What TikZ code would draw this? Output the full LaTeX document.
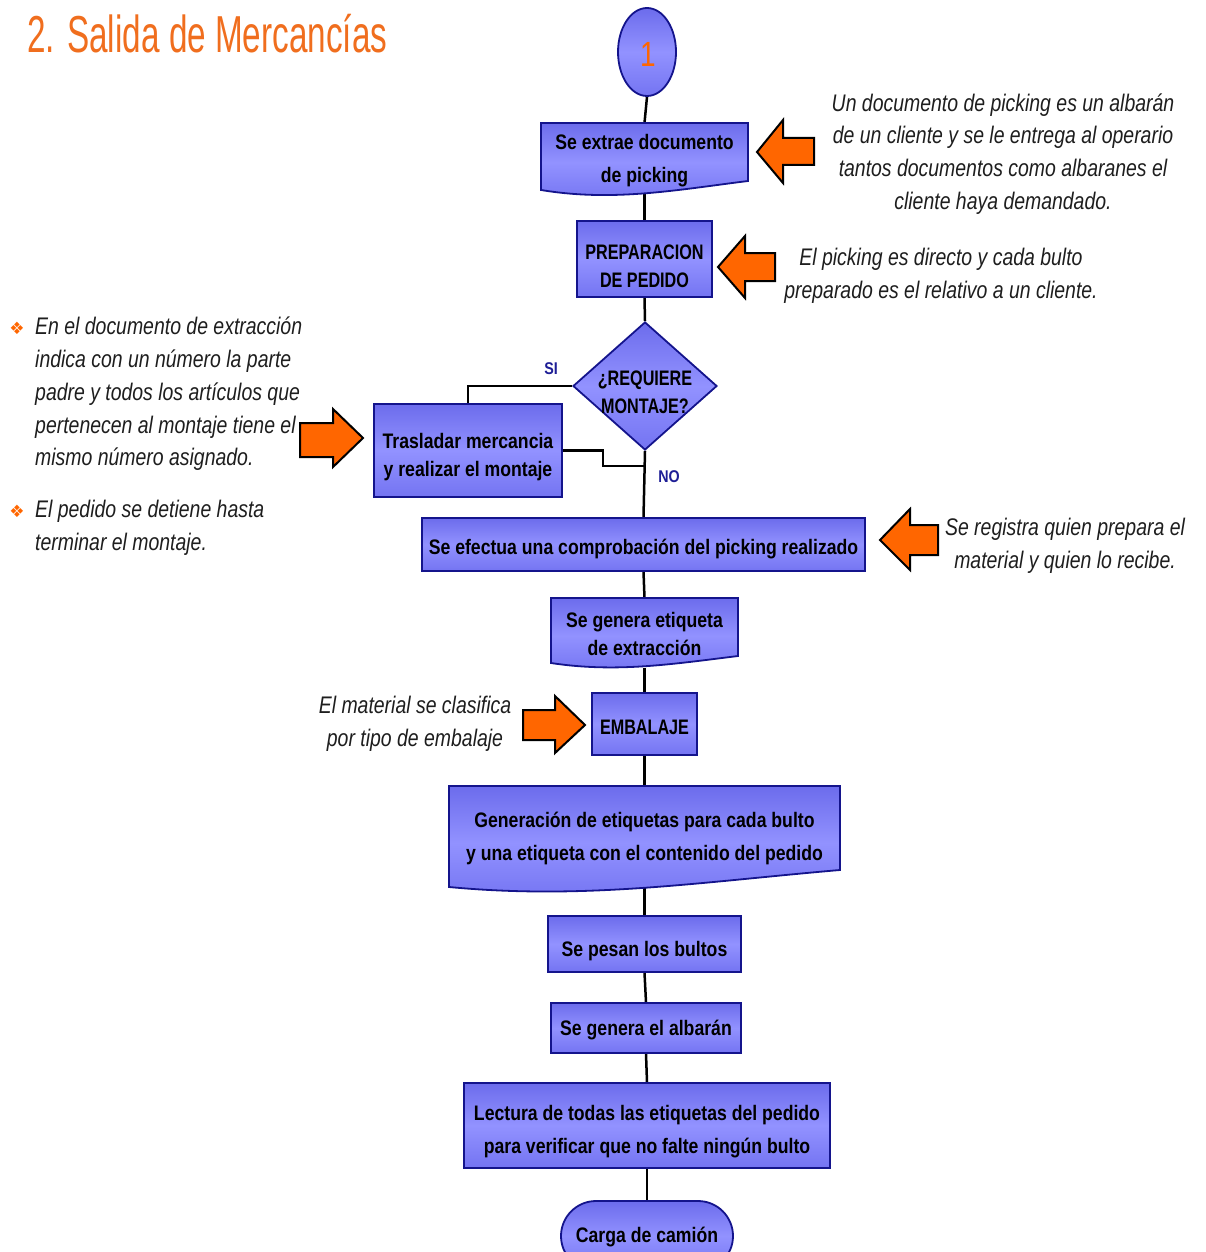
\documentclass[tikz,border=0pt]{standalone}
\usepackage{fontspec}
\setmainfont{Liberation Sans}
\newfontfamily\boxf[FakeStretch=0.84]{Liberation Sans}
\newfontfamily\boxfu[FakeStretch=0.77]{Liberation Sans}
\newfontfamily\annf[FakeStretch=0.81]{Liberation Sans}
\newfontfamily\titf[FakeStretch=0.64]{Liberation Sans}
\newfontfamily\numf[FakeStretch=0.8]{Liberation Sans}
\newfontfamily\symf{DejaVu Sans}
\usetikzlibrary{shapes.geometric,backgrounds}
\definecolor{navy}{RGB}{20,20,140}
\definecolor{bt}{RGB}{108,108,236}
\definecolor{bm}{RGB}{146,146,255}
\definecolor{bb}{RGB}{116,116,242}
\definecolor{org}{RGB}{255,102,0}
\definecolor{titorg}{RGB}{240,110,30}
\definecolor{lblnavy}{RGB}{30,30,150}
\definecolor{anntext}{RGB}{30,30,30}
\begin{document}
\begin{tikzpicture}[x=1pt,y=-1pt,
 bfill/.style={draw=navy, line width=1.8pt, top color=bt, bottom color=bb, middle color=bm},
 proc/.style={bfill, rectangle, inner sep=0pt},
 btxt/.style={rectangle, inner sep=0pt, align=center, font=\boxf\bfseries\fontsize{21}{28}\selectfont, text=black},
 btxtu/.style={btxt, font=\boxfu\bfseries\fontsize{21}{28}\selectfont},
 conn/.style={line width=2.5pt, black},
 barrow/.style={fill=org, draw=black, line width=2pt, line join=miter},
 ann/.style={font=\annf\itshape\fontsize{24}{32.7}\selectfont, align=center, text=anntext, inner sep=0pt},
 yn/.style={font=\boxf\bfseries\fontsize{17}{18}\selectfont, text=lblnavy, inner sep=0pt}
]
\useasboundingbox (0,0) rectangle (1206,1252);
\clip (0,0) rectangle (1206,1252);

% title
\node[anchor=west, font=\titf\fontsize{52}{52}\selectfont, text=titorg, inner sep=0pt] (title) at (27,34) {2. Salida de Mercancías};

% start circle
\node[bfill, ellipse, minimum width=58pt, minimum height=88pt, inner sep=0pt] (c1) at (647,52) {};
\node[font=\numf\fontsize{35}{35}\selectfont, text=org, inner sep=0pt] (c1t) at (648,54) {1};

% box 1 (document)
\path[bfill] (541,123) -- (748,123) -- (748,181) .. controls (676,190) and (613,202) .. (541,190) -- cycle;
\node[rectangle, inner sep=0pt, minimum width=207pt, minimum height=70pt] (b1) at (644.5,158) {};
\node[btxt] (t1) at (644.5,161) {Se extrae documento\\[5pt]de picking};

% box 2
\node[proc, minimum width=135pt, minimum height=76pt] (b2) at (644.5,259) {};
\node[btxtu] (t2) at (644.5,266) {PREPARACION\\DE PEDIDO};

% decision
\node[bfill, diamond, minimum width=144pt, minimum height=128pt, inner sep=0pt] (d) at (645,386) {};
\node[btxtu] (dt) at (645,392) {¿REQUIERE\\MONTAJE?};
\node[yn] (si) at (551,369) {SI};
\node[yn] (no) at (669,477) {NO};

% box 3
\node[proc, minimum width=188pt, minimum height=93pt] (b3) at (468,450.5) {};
\node[btxt] (t3) at (468,457) {Trasladar mercancia\\y realizar el montaje};

% box 4
\node[proc, minimum width=443pt, minimum height=53pt] (b4) at (643.5,544.5) {};
\node[btxt] (t4) at (643.5,549) {Se efectua una comprobación del picking realizado};

% box 5 (document)
\path[bfill] (551,598) -- (738,598) -- (738,656) .. controls (673,664) and (616,673) .. (551,663) -- cycle;
\node[rectangle, inner sep=0pt, minimum width=187pt, minimum height=70pt] (b5) at (644.5,633) {};
\node[btxt] (t5) at (644.5,634) {Se genera etiqueta\\de extracción};

% box 6
\node[proc, minimum width=105pt, minimum height=62pt] (b6) at (644.5,724) {};
\node[btxtu] (t6) at (644.5,727) {EMBALAJE};

% box 7 (document)
\path[bfill] (449,786) -- (840,786) -- (840,870) .. controls (700,882) and (586,900) .. (449,887) -- cycle;
\node[rectangle, inner sep=0pt, minimum width=391pt, minimum height=102pt] (b7) at (644.5,837) {};
\node[btxt] (t7) at (644.5,838) {Generación de etiquetas para cada bulto\\[5pt]y una etiqueta con el contenido del pedido};

% box 8
\node[proc, minimum width=193pt, minimum height=56pt] (b8) at (644.5,944) {};
\node[btxt] (t8) at (644.5,951) {Se pesan los bultos};

% box 9
\node[proc, minimum width=190pt, minimum height=50pt] (b9) at (646,1028) {};
\node[btxt] (t9) at (646,1030) {Se genera el albarán};

% box 10
\node[proc, minimum width=366pt, minimum height=85pt] (b10) at (647,1125.5) {};
\node[btxt] (t10) at (647,1132) {Lectura de todas las etiquetas del pedido\\[5pt]para verificar que no falte ningún bulto};

% terminal
\node[bfill, rectangle, rounded corners=35pt, minimum width=172pt, minimum height=70pt, inner sep=0pt] (term) at (647,1236) {};
\node[btxt] (tt) at (647,1237) {Carga de camión};

% connectors
\begin{scope}[on background layer]
\coordinate (j) at (645,466);
\draw[conn] (c1.south) -- (b1.north);
\draw[conn] (b1.south) -- (b2.north);
\draw[conn] (b2.south) -- (d.north);
\draw[conn] (d.west) -| (b3.north);
\draw[conn] (b3.east) -- ++(40,0) |- (j);
\draw[conn] (d.south) -- (b4.north);
\draw[conn] (b4.south) -- (b5.north);
\draw[conn] (b5.south) -- (b6.north);
\draw[conn] (b6.south) -- (b7.north);
\draw[conn] (b7.south) -- (b8.north);
\draw[conn] (b8.south) -- (b9.north);
\draw[conn] (b9.south) -- (b10.north);
\draw[conn] (b10.south) -- (term.north);
\end{scope}

% annotations
\node[ann] (n1) at (1003,154) {Un documento de picking es un albarán\\de un cliente y se le entrega al operario\\tantos documentos como albaranes el\\cliente haya demandado.};
\node[ann] (n2) at (941,276) {El picking es directo y cada bulto\\preparado es el relativo a un cliente.};
\node[ann] (n4) at (1065,546) {Se registra quien prepara el\\material y quien lo recibe.};
\node[ann] (n5) at (415,724) {El material se clasifica\\por tipo de embalaje};
\node[ann, align=left, anchor=west] (n3) at (35,394) {En el documento de extracción\\indica con un número la parte\\padre y todos los artículos que\\pertenecen al montaje tiene el\\mismo número asignado.};
\node[ann, align=left, anchor=west] (n6) at (35,528) {El pedido se detiene hasta\\terminar el montaje.};
\node[text=org, font=\symf\fontsize{17}{17}\selectfont, inner sep=0pt] (bu1) at (17,328) {❖};
\node[text=org, font=\symf\fontsize{17}{17}\selectfont, inner sep=0pt] (bu2) at (17,511) {❖};

% block arrows
\path[barrow] (757,152) -- (783,120) -- (783,138) -- (814,138) -- (814,165) -- (783,165) -- (783,183) -- cycle;
\path[barrow] (718,267) -- (745,236) -- (745,253) -- (775,253) -- (775,281) -- (745,281) -- (745,298) -- cycle;
\path[barrow] (363,438) -- (333,409) -- (333,423) -- (300,423) -- (300,457) -- (333,457) -- (333,467) -- cycle;
\path[barrow] (880,540) -- (910,509) -- (910,525) -- (938,525) -- (938,555) -- (910,555) -- (910,570) -- cycle;
\path[barrow] (585,725) -- (555,696) -- (555,710) -- (523,710) -- (523,740) -- (555,740) -- (555,753) -- cycle;
\end{tikzpicture}
\end{document}
